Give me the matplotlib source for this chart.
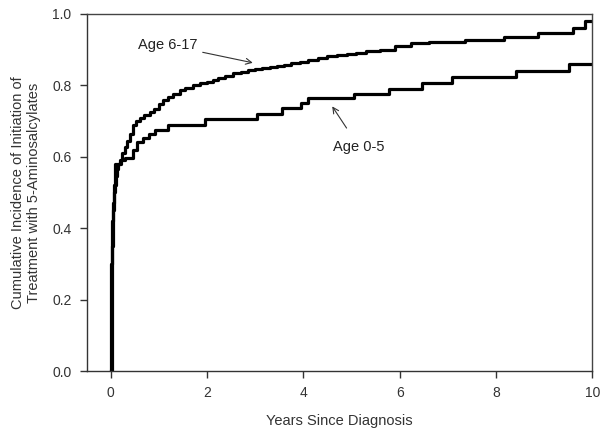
import matplotlib
matplotlib.use('Agg')
import matplotlib.pyplot as plt

plt.rcParams['font.family'] = ['Liberation Sans', 'DejaVu Sans']

# step times (years) and cumulative incidence
t_older = [0.0, 0.01, 0.02, 0.03, 0.05, 0.07, 0.08, 0.10, 0.13, 0.16, 0.19, 0.24, 0.29,
           0.34, 0.40, 0.46, 0.53, 0.60, 0.70, 0.81, 0.90, 1.00, 1.08, 1.18, 1.30,
           1.43, 1.55, 1.70, 1.85, 2.00, 2.12, 2.22, 2.38, 2.54, 2.70, 2.85, 3.00,
           3.15, 3.30, 3.45, 3.60, 3.75, 3.93, 4.10, 4.30, 4.49, 4.70, 4.90, 5.10,
           5.30, 5.60, 5.90, 6.24, 6.60, 7.36, 8.17, 8.88, 9.60, 9.85, 10.0]
v_older = [0.0, 0.30, 0.36, 0.42, 0.47, 0.50, 0.52, 0.545, 0.565, 0.58, 0.59, 0.61, 0.628,
           0.645, 0.665, 0.69, 0.70, 0.708, 0.716, 0.725, 0.735, 0.748, 0.759, 0.768, 0.777,
           0.787, 0.793, 0.80, 0.806, 0.810, 0.815, 0.820, 0.826, 0.834, 0.838, 0.842, 0.846,
           0.849, 0.851, 0.854, 0.858, 0.862, 0.866, 0.870, 0.876, 0.882, 0.885, 0.888, 0.891,
           0.895, 0.90, 0.91, 0.918, 0.920, 0.927, 0.936, 0.947, 0.96, 0.98, 0.98]

t_young = [0.0, 0.02, 0.04, 0.06, 0.08, 0.22, 0.30, 0.46, 0.55, 0.67, 0.80, 0.91, 1.19,
           1.95, 3.03, 3.55, 3.96, 4.10, 5.05, 5.77, 6.47, 7.09, 8.42, 9.51, 10.0]
v_young = [0.0, 0.35, 0.45, 0.52, 0.58, 0.59, 0.597, 0.62, 0.64, 0.653, 0.665, 0.675, 0.689,
           0.705, 0.72, 0.736, 0.75, 0.764, 0.776, 0.791, 0.807, 0.822, 0.84, 0.859, 0.859]

xticks = [0, 2, 4, 6, 8, 10]
yticks = [0.0, 0.2, 0.4, 0.6, 0.8, 1.0]

fig = plt.figure(figsize=(6.04, 4.33), dpi=100)
ax = fig.add_axes([0.1435, 0.143, 0.837, 0.825])

ax.step(t_older, v_older, where='post', color='black', lw=2.3)
ax.step(t_young, v_young, where='post', color='black', lw=2.3)

ax.set_xlim(-0.5, 10)
ax.set_ylim(0, 1.0)
ax.set_xticks(xticks)
ax.set_xticklabels([str(x) for x in xticks])
ax.set_yticks(yticks)
ax.set_yticklabels(['%.1f' % y for y in yticks])
ax.tick_params(direction='out', length=5, width=1, colors='#333333', labelsize=10, pad=6)

for s in ['left', 'bottom']:
    ax.spines[s].set_color('#333333')
    ax.spines[s].set_linewidth(1.0)
for s in ['top', 'right']:
    ax.spines[s].set_color('#444444')
    ax.spines[s].set_linewidth(1.0)

ax.set_xlabel('Years Since Diagnosis', fontsize=10.5, color='#333333', labelpad=10)
ax.set_ylabel('Cumulative Incidence of Initiation of\nTreatment with 5-Aminosalcylates',
              fontsize=10.5, color='#333333', labelpad=8)

ax.annotate('Age 6-17', xy=(2.95, 0.863), xytext=(0.56, 0.913), fontsize=10.5,
            color='#222222', va='center', ha='left',
            arrowprops=dict(arrowstyle='->', color='#333333', lw=0.8,
                            shrinkA=2, shrinkB=0))
ax.annotate('Age 0-5', xy=(4.6, 0.741), xytext=(5.16, 0.627), fontsize=10.5,
            color='#222222', va='center', ha='center',
            arrowprops=dict(arrowstyle='->', color='#333333', lw=0.8,
                            shrinkA=8, shrinkB=0))

fig.savefig('out.png', dpi=100)
